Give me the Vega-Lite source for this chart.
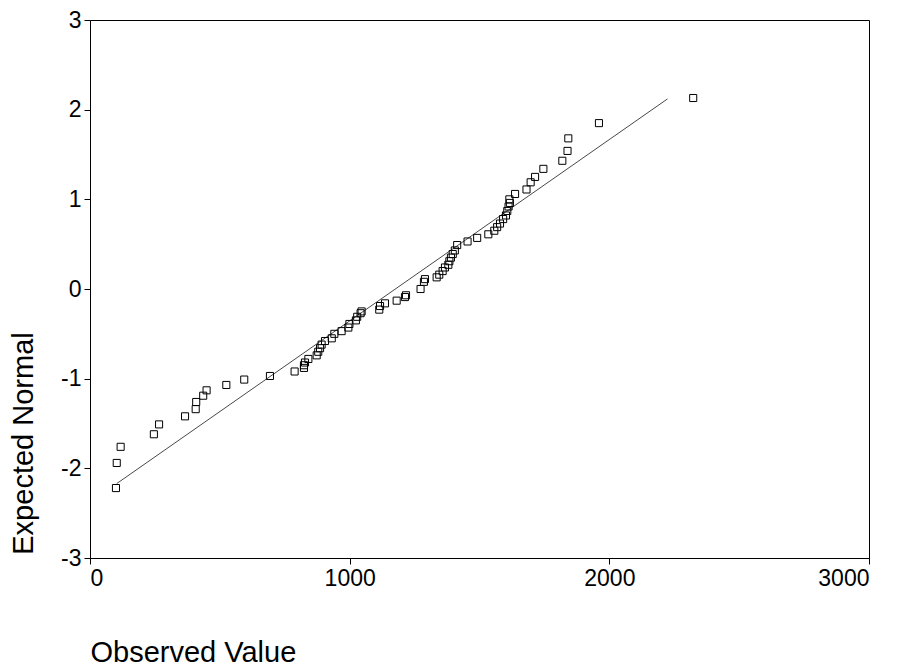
{
  "$schema": "https://vega.github.io/schema/vega-lite/v6.json",
  "autosize": "none",
  "width": 779,
  "height": 538,
  "padding": {"left": 90, "top": 20, "right": 29, "bottom": 113},
  "background": "white",
  "config": {
    "view": {"stroke": "black", "strokeWidth": 1},
    "font": "Liberation Sans",
    "axis": {
      "grid": false,
      "domainColor": "black",
      "tickColor": "black",
      "labelColor": "black",
      "titleColor": "black",
      "labelFont": "Liberation Sans Narrow, Liberation Sans, Arial",
      "titleFont": "Liberation Sans",
      "labelFontSize": 23,
      "titleFontSize": 29,
      "titleFontWeight": "normal",
      "tickSize": 6,
      "labelPadding": 3
    }
  },
  "datasets": {
    "pts": [
      {"obs": 100, "exp": -2.22}, {"obs": 103, "exp": -1.94}, {"obs": 118, "exp": -1.76},
      {"obs": 246, "exp": -1.62}, {"obs": 266, "exp": -1.51}, {"obs": 366, "exp": -1.42},
      {"obs": 407, "exp": -1.34}, {"obs": 409, "exp": -1.26}, {"obs": 436, "exp": -1.19},
      {"obs": 449, "exp": -1.13}, {"obs": 525, "exp": -1.07}, {"obs": 594, "exp": -1.01},
      {"obs": 693, "exp": -0.97}, {"obs": 788, "exp": -0.92}, {"obs": 824, "exp": -0.88},
      {"obs": 824, "exp": -0.85}, {"obs": 828, "exp": -0.82}, {"obs": 841, "exp": -0.78},
      {"obs": 873, "exp": -0.74}, {"obs": 879, "exp": -0.70}, {"obs": 886, "exp": -0.66},
      {"obs": 892, "exp": -0.62}, {"obs": 905, "exp": -0.58}, {"obs": 931, "exp": -0.55},
      {"obs": 941, "exp": -0.50}, {"obs": 969, "exp": -0.47}, {"obs": 995, "exp": -0.43},
      {"obs": 999, "exp": -0.39}, {"obs": 1024, "exp": -0.35}, {"obs": 1029, "exp": -0.31},
      {"obs": 1042, "exp": -0.27}, {"obs": 1046, "exp": -0.25}, {"obs": 1114, "exp": -0.23},
      {"obs": 1117, "exp": -0.19}, {"obs": 1136, "exp": -0.16}, {"obs": 1181, "exp": -0.13},
      {"obs": 1213, "exp": -0.09}, {"obs": 1217, "exp": -0.07}, {"obs": 1273, "exp": 0.00},
      {"obs": 1286, "exp": 0.08}, {"obs": 1290, "exp": 0.11}, {"obs": 1335, "exp": 0.13},
      {"obs": 1345, "exp": 0.16}, {"obs": 1358, "exp": 0.20}, {"obs": 1367, "exp": 0.24},
      {"obs": 1380, "exp": 0.27}, {"obs": 1384, "exp": 0.31}, {"obs": 1390, "exp": 0.35},
      {"obs": 1397, "exp": 0.39}, {"obs": 1405, "exp": 0.43}, {"obs": 1414, "exp": 0.49},
      {"obs": 1454, "exp": 0.53}, {"obs": 1491, "exp": 0.57}, {"obs": 1534, "exp": 0.61},
      {"obs": 1557, "exp": 0.65}, {"obs": 1568, "exp": 0.69}, {"obs": 1579, "exp": 0.73},
      {"obs": 1591, "exp": 0.78}, {"obs": 1602, "exp": 0.82}, {"obs": 1607, "exp": 0.87},
      {"obs": 1612, "exp": 0.92}, {"obs": 1617, "exp": 0.96}, {"obs": 1615, "exp": 1.00},
      {"obs": 1637, "exp": 1.06}, {"obs": 1681, "exp": 1.11}, {"obs": 1697, "exp": 1.19},
      {"obs": 1714, "exp": 1.25}, {"obs": 1746, "exp": 1.34}, {"obs": 1819, "exp": 1.43},
      {"obs": 1839, "exp": 1.54}, {"obs": 1842, "exp": 1.68}, {"obs": 1960, "exp": 1.85},
      {"obs": 2323, "exp": 2.13}
    ],
    "ref": [
      {"obs": 103, "exp": -2.17},
      {"obs": 2224, "exp": 2.12}
    ]
  },
  "layer": [
    {
      "data": {"name": "ref"},
      "mark": {"type": "line", "color": "#333333", "strokeWidth": 0.9},
      "encoding": {
        "x": {"field": "obs", "type": "quantitative"},
        "y": {"field": "exp", "type": "quantitative"}
      }
    },
    {
      "data": {"name": "pts"},
      "mark": {"type": "point", "shape": "square", "filled": false, "color": "black", "size": 50, "strokeWidth": 1, "opacity": 1},
      "encoding": {
        "x": {
          "field": "obs", "type": "quantitative",
          "scale": {"domain": [0, 3000], "nice": false, "zero": false},
          "axis": {
            "values": [0, 1000, 2000, 3000],
            "labelExpr": "'' + datum.value",
            "title": "Observed Value",
            "titleAnchor": "start",
            "titleAlign": "left",
            "titleBaseline": "alphabetic",
            "titleX": 0,
            "titleY": 103,
            "labelPadding": 3
          }
        },
        "y": {
          "field": "exp", "type": "quantitative",
          "scale": {"domain": [-3, 3], "nice": false, "zero": false},
          "axis": {
            "values": [-3, -2, -1, 0, 1, 2, 3],
            "labelExpr": "'' + datum.value",
            "title": "Expected Normal",
            "titleAngle": -90,
            "titleAlign": "center",
            "titleBaseline": "alphabetic",
            "titleX": -58,
            "titleY": 423
          }
        }
      }
    }
  ]
}
